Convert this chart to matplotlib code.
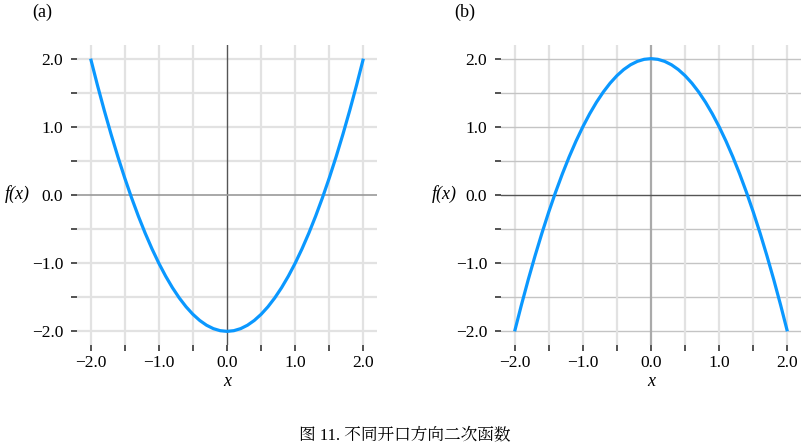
import numpy as np
import matplotlib.pyplot as plt
from matplotlib.ticker import MultipleLocator, FuncFormatter

SERIF = ['Liberation Serif', 'Noto Serif CJK JP', 'Noto Sans CJK SC']
plt.rcParams['font.family'] = SERIF

# values
x_vals = [-2.0, -1.9, -1.8, -1.7, -1.6, -1.5, -1.4, -1.3, -1.2, -1.1, -1.0,
          -0.9, -0.8, -0.7, -0.6, -0.5, -0.4, -0.3, -0.2, -0.1, 0.0,
          0.1, 0.2, 0.3, 0.4, 0.5, 0.6, 0.7, 0.8, 0.9, 1.0,
          1.1, 1.2, 1.3, 1.4, 1.5, 1.6, 1.7, 1.8, 1.9, 2.0]
y_up = [2.0, 1.61, 1.24, 0.89, 0.56, 0.25, -0.04, -0.31, -0.56, -0.79, -1.0,
        -1.19, -1.36, -1.51, -1.64, -1.75, -1.84, -1.91, -1.96, -1.99, -2.0,
        -1.99, -1.96, -1.91, -1.84, -1.75, -1.64, -1.51, -1.36, -1.19, -1.0,
        -0.79, -0.56, -0.31, -0.04, 0.25, 0.56, 0.89, 1.24, 1.61, 2.0]
y_down = [-2.0, -1.61, -1.24, -0.89, -0.56, -0.25, 0.04, 0.31, 0.56, 0.79, 1.0,
          1.19, 1.36, 1.51, 1.64, 1.75, 1.84, 1.91, 1.96, 1.99, 2.0,
          1.99, 1.96, 1.91, 1.84, 1.75, 1.64, 1.51, 1.36, 1.19, 1.0,
          0.79, 0.56, 0.31, 0.04, -0.25, -0.56, -0.89, -1.24, -1.61, -2.0]
panel_labels = ['(a)', '(b)']
caption = '图 11. 不同开口方向二次函数'

W, H = 802, 446
fig = plt.figure(figsize=(W / 100, H / 100), dpi=100)

line_color = '#0A98FF'


def fmt(v, pos):
    s = '%.1f' % abs(v)
    return ('\u2212' + s) if v < -1e-9 else s


def setup(ax, hgrid_color, hgrid_lw, vzero_color, vzero_lw, hzero_color, hzero_lw):
    ax.set_xlim(-2.2, 2.2)
    ax.set_ylim(-2.2, 2.2)
    for s in ax.spines.values():
        s.set_visible(False)
    ax.xaxis.set_major_locator(MultipleLocator(1.0))
    ax.xaxis.set_minor_locator(MultipleLocator(0.5))
    ax.yaxis.set_major_locator(MultipleLocator(1.0))
    ax.yaxis.set_minor_locator(MultipleLocator(0.5))
    ax.xaxis.set_major_formatter(FuncFormatter(fmt))
    ax.yaxis.set_major_formatter(FuncFormatter(fmt))
    ax.tick_params(which='both', length=4, width=1.3, color='#444444',
                   labelsize=12.5, labelfontfamily='Liberation Serif')
    ax.tick_params(axis='y', which='both', pad=6)
    ax.tick_params(axis='x', which='both', pad=3)
    for v in np.arange(-2.0, 2.01, 0.5):
        if abs(v) > 1e-9:
            ax.axvline(v, color='#e2e2e2', lw=1.6, zorder=0)
            ax.axhline(v, color=hgrid_color, lw=hgrid_lw, zorder=0)
    ax.axvline(0, color=vzero_color, lw=vzero_lw, zorder=1)
    ax.axhline(0, color=hzero_color, lw=hzero_lw, zorder=1)


ax1 = fig.add_axes([77 / W, 1 - 345 / H, 300 / W, 300 / H])
setup(ax1, '#e2e2e2', 1.6, '#555555', 1.0, '#999999', 1.2)
ax1.plot(x_vals, y_up, color=line_color, lw=2.3, zorder=3, solid_capstyle='butt')

ax2 = fig.add_axes([501 / W, 1 - 345 / H, 300 / W, 300 / H])
setup(ax2, '#c4c4c4', 1.0, '#aaaaaa', 1.6, '#555555', 1.0)
ax2.plot(x_vals, y_down, color=line_color, lw=2.3, zorder=3, solid_capstyle='butt')

for cx in (227, 651):
    fig.text(cx / W, 1 - 381 / H, 'x', style='italic', fontsize=13,
             family=SERIF, ha='center', va='center')
for lx in (17, 444):
    fig.text(lx / W, 1 - 194 / H, 'f(x)', style='italic', fontsize=13,
             family=SERIF, ha='center', va='center')
fig.text(42 / W, 1 - 12 / H, panel_labels[0], fontsize=13, family=SERIF,
         ha='center', va='center')
fig.text(465 / W, 1 - 12 / H, panel_labels[1], fontsize=13, family=SERIF,
         ha='center', va='center')
fig.text(405 / W, 1 - 435 / H, caption, fontsize=12, family=SERIF,
         ha='center', va='center')

fig.savefig('out.png', dpi=100)
